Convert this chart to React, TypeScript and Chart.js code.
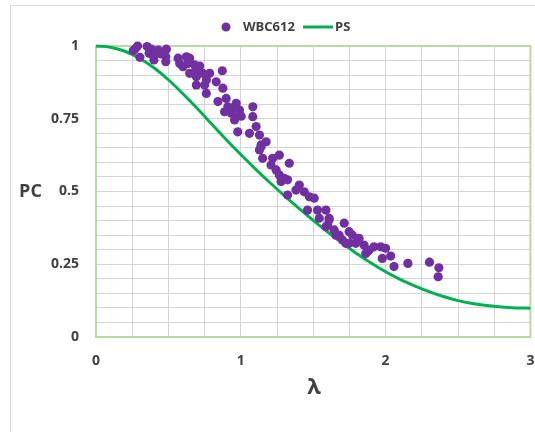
import React, { useEffect, useRef } from "react";
import { Chart, registerables } from "chart.js";

Chart.register(...registerables);

// PS curve
const psLambda = [0, 0.1, 0.2, 0.3, 0.4, 0.5, 0.6, 0.7, 0.8, 0.9, 1.0, 1.1, 1.2, 1.3, 1.4, 1.5, 1.6, 1.7, 1.8, 1.9, 2.0, 2.1, 2.2, 2.3, 2.4, 2.5, 2.6, 2.7, 2.8, 2.9, 3.0];
const psPC = [1.0, 0.996, 0.982, 0.958, 0.925, 0.884, 0.836, 0.785, 0.731, 0.678, 0.627, 0.578, 0.531, 0.486, 0.443, 0.401, 0.361, 0.323, 0.287, 0.254, 0.224, 0.198, 0.176, 0.156, 0.139, 0.125, 0.115, 0.108, 0.103, 0.1, 0.099];

const wbcLambda = [
  0.257, 0.27, 0.287, 0.303, 0.353, 0.383, 0.367, 0.399, 0.413, 0.429, 0.445, 0.486, 0.482, 0.482, 0.40,
  0.567, 0.578, 0.624, 0.601, 0.647, 0.635, 0.681, 0.693, 0.716, 0.647, 0.693, 0.738, 0.762, 0.785, 0.75,
  0.693, 0.83, 0.872, 0.876, 0.762, 0.842, 0.899, 0.911, 0.888, 0.968, 0.934, 0.991, 0.957, 1.003, 1.083,
  1.083, 0.979, 1.06, 1.106, 1.129, 1.175, 1.14, 0.934, 0.991, 1.14, 1.129, 1.151, 1.22, 1.266, 1.209,
  1.244, 1.335, 1.266, 1.301, 1.323, 1.278, 1.323, 1.381, 1.404, 1.438, 1.473, 1.507, 1.461, 1.53, 1.588,
  1.542, 1.61, 1.599, 1.645, 1.714, 1.657, 1.702, 1.748, 1.771, 1.817, 1.725, 1.794, 1.851, 1.874, 1.92,
  1.966, 2.0, 1.977, 2.035, 1.748, 1.863, 1.886, 2.058, 2.154, 2.303, 2.368, 2.363, 1.61, 1.588, 1.679
];
const wbcPC = [
  0.984, 0.99, 1.0, 0.961, 0.998, 0.989, 0.975, 0.969, 0.98, 0.986, 0.973, 0.989, 0.963, 0.946, 0.952,
  0.958, 0.94, 0.963, 0.929, 0.958, 0.94, 0.935, 0.918, 0.931, 0.906, 0.894, 0.906, 0.883, 0.906, 0.866,
  0.866, 0.877, 0.915, 0.855, 0.837, 0.809, 0.82, 0.791, 0.774, 0.803, 0.769, 0.78, 0.746, 0.759, 0.791,
  0.757, 0.705, 0.7, 0.723, 0.694, 0.671, 0.66, 0.786, 0.763, 0.654, 0.643, 0.614, 0.614, 0.625, 0.591,
  0.574, 0.597, 0.557, 0.545, 0.54, 0.534, 0.488, 0.505, 0.522, 0.499, 0.482, 0.477, 0.436, 0.436, 0.436,
  0.408, 0.408, 0.385, 0.368, 0.391, 0.35, 0.333, 0.362, 0.35, 0.339, 0.322, 0.322, 0.316, 0.293, 0.31,
  0.31, 0.305, 0.27, 0.278, 0.322, 0.287, 0.299, 0.242, 0.253, 0.257, 0.238, 0.207, 0.402, 0.379, 0.35
];

const seriesNames = ["WBC612", "PS"];
const xTitle = "λ";
const yTitle = "PC";

const PURPLE = "#7030A0";
const GREEN = "#00B050";
const TEXT = "#404040";
const FONT = "'Open Sans', 'DejaVu Sans', sans-serif";

const decorPlugin = {
  id: "decor",
  beforeDatasetsDraw(chart: any) {
    const { ctx, chartArea } = chart;
    ctx.save();
    ctx.strokeStyle = "#b9dba3";
    ctx.lineWidth = 2;
    ctx.strokeRect(chartArea.left, chartArea.top, chartArea.right - chartArea.left, chartArea.bottom - chartArea.top);
    ctx.restore();
  },
  afterDraw(chart: any) {
    const { ctx } = chart;
    ctx.save();
    // legend
    const ly = 27;
    ctx.fillStyle = PURPLE;
    ctx.beginPath();
    ctx.arc(226, ly, 4.5, 0, Math.PI * 2);
    ctx.fill();
    ctx.fillStyle = TEXT;
    ctx.font = `bold 13px ${FONT}`;
    ctx.textBaseline = "middle";
    ctx.textAlign = "left";
    ctx.fillText(seriesNames[0], 243, ly);
    ctx.strokeStyle = GREEN;
    ctx.lineWidth = 3;
    ctx.beginPath();
    ctx.moveTo(303, ly);
    ctx.lineTo(333, ly);
    ctx.stroke();
    ctx.fillText(seriesNames[1], 335, ly);
    // axis titles
    ctx.textAlign = "center";
    ctx.font = `bold 18px ${FONT}`;
    ctx.fillText(yTitle, 30.5, 192);
    ctx.font = `bold 22px ${FONT}`;
    ctx.fillText(xTitle, 314, 388);
    ctx.restore();
  },
};

const isMultiple = (v: number, step: number) => Math.abs(v / step - Math.round(v / step)) < 1e-6;

export default function App() {
  const ref = useRef<HTMLCanvasElement>(null);
  useEffect(() => {
    document.body.style.margin = "0";
    document.body.style.overflow = "hidden";
    const chart = new Chart(ref.current!, {
      type: "scatter",
      data: {
        datasets: [
          {
            label: seriesNames[0],
            data: wbcLambda.map((x, i) => ({ x, y: wbcPC[i] })),
            backgroundColor: PURPLE,
            borderColor: PURPLE,
            pointRadius: 4.6,
            pointBorderWidth: 0,
            clip: false as any,
          },
          {
            label: seriesNames[1],
            type: "line" as any,
            data: psLambda.map((x, i) => ({ x, y: psPC[i] })),
            borderColor: GREEN,
            borderWidth: 3,
            pointRadius: 0,
            cubicInterpolationMode: "monotone",
            fill: false,
            clip: false as any,
          } as any,
        ],
      },
      options: {
        responsive: false,
        animation: false,
        layout: { padding: { left: 0, top: 46, right: 3, bottom: 0 } },
        plugins: { legend: { display: false }, tooltip: { enabled: false } },
        scales: {
          x: {
            type: "linear",
            min: 0,
            max: 3,
            afterFit(scale: any) {
              scale.height = 95;
              scale.paddingLeft = 0;
              scale.paddingRight = 0;
            },
            ticks: {
              stepSize: 0.25,
              autoSkip: false,
              maxRotation: 0,
              padding: 16,
              color: TEXT,
              font: { family: FONT, size: 14, weight: "bold" },
              callback: (v: any) => (isMultiple(Number(v), 1) ? String(Math.round(Number(v))) : ""),
            },
            grid: { color: "#d4d4d4", lineWidth: 1, drawTicks: false },
            border: { display: false },
          },
          y: {
            type: "linear",
            min: 0,
            max: 1,
            afterFit(scale: any) {
              scale.width = 96;
              scale.paddingTop = 0;
              scale.paddingBottom = 0;
            },
            ticks: {
              stepSize: 0.05,
              autoSkip: false,
              padding: 17,
              color: TEXT,
              font: { family: FONT, size: 14, weight: "bold" },
              callback: (v: any) => {
                const n = Number(v);
                return isMultiple(n, 0.25) ? String(Math.round(n * 100) / 100) : "";
              },
            },
            grid: { color: "#d4d4d4", lineWidth: 1, drawTicks: false },
            border: { display: false },
          },
        },
      },
      plugins: [decorPlugin],
    } as any);
    return () => chart.destroy();
  }, []);
  return (
    <div style={{ position: "relative", width: 535, height: 432, background: "#fff", overflow: "hidden" }}>
      <div
        style={{
          position: "absolute",
          left: 10,
          top: 5,
          width: 600,
          height: 500,
          borderLeft: "1px solid #d9d9d9",
          borderTop: "1px solid #d9d9d9",
        }}
      />
      <canvas ref={ref} width={535} height={432} style={{ position: "absolute", left: 0, top: 0 }} />
    </div>
  );
}
